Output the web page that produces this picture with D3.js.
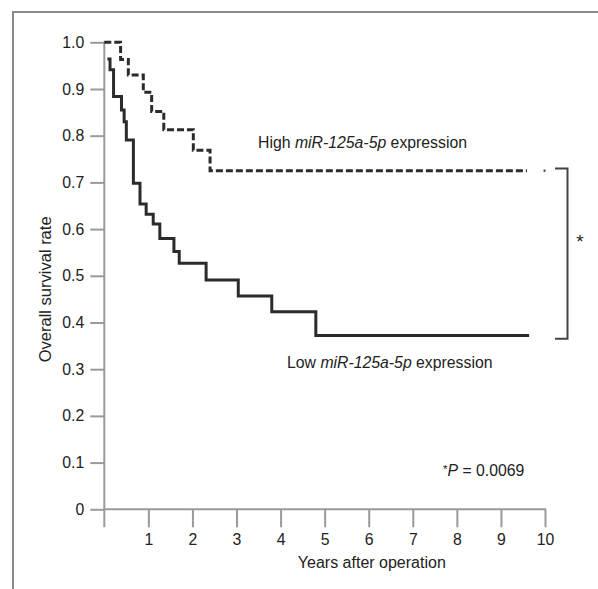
<!DOCTYPE html>
<html>
<head>
<meta charset="utf-8">
<script src="https://cdn.jsdelivr.net/npm/d3@7"></script>
<style>
  html, body { margin: 0; padding: 0; background: #fff; }
  svg { display: block; }
  text { font-family: "Liberation Sans", Arial, sans-serif; fill: #222; }
</style>
</head>
<body>
<svg id="chart" width="598" height="589"></svg>
<script>
// ---- data ----
const xTicks = [1, 2, 3, 4, 5, 6, 7, 8, 9, 10];
const yTicks = [0, 0.1, 0.2, 0.3, 0.4, 0.5, 0.6, 0.7, 0.8, 0.9, 1.0];
const yTickLabels = ["0", "0.1", "0.2", "0.3", "0.4", "0.5", "0.6", "0.7", "0.8", "0.9", "1.0"];

const highTimes = [0, 0.37, 0.545, 0.885, 1.075, 1.35, 2.02, 2.40, 9.59];
const highSurv  = [1.0, 0.963, 0.930, 0.893, 0.852, 0.813, 0.769, 0.725, 0.725];
const highCensorTimes = [9.99];
const highCensorSurv  = [0.725];

const lowTimes = [0.07, 0.13, 0.21, 0.39, 0.45, 0.50, 0.66, 0.81, 0.95, 1.11, 1.26, 1.58, 1.70, 2.31, 3.04, 3.80, 4.80, 9.64];
const lowSurv  = [0.964, 0.941, 0.884, 0.855, 0.83, 0.791, 0.698, 0.654, 0.632, 0.611, 0.580, 0.552, 0.527, 0.491, 0.457, 0.423, 0.372, 0.372];

const bracketValues = [0.730, 0.365];
const pText = "0.0069";

// ---- drawing ----
const svg = d3.select("#chart");
const x = d3.scaleLinear().domain([0, 10]).range([104.3, 545]);
const y = d3.scaleLinear().domain([0, 1]).range([509.3, 42.3]);

const axisColor = "#9a9a9a";
const lineColor = "#2b2b2b";
const fs = 15.8;

// frame
svg.append("path")
  .attr("d", "M13,589 L13,12 L598,12")
  .attr("fill", "none").attr("stroke", "#8a8a8a").attr("stroke-width", 2);

// y axis
const yAxis = d3.axisLeft(y).tickValues(yTicks)
  .tickFormat((d, i) => yTickLabels[i]).tickSize(14).tickPadding(6);
const gy = svg.append("g").attr("transform", `translate(${x(0)},0)`).call(yAxis);
gy.select(".domain").remove();
gy.selectAll(".tick line").attr("stroke", axisColor).attr("stroke-width", 2);
gy.selectAll(".tick text").attr("font-size", fs).attr("fill", "#222")
  .attr("font-family", "Liberation Sans, Arial, sans-serif");
svg.append("line")
  .attr("x1", x(0)).attr("x2", x(0))
  .attr("y1", y(1) - 1).attr("y2", y(0) + 18)
  .attr("stroke", axisColor).attr("stroke-width", 2);

// x axis
const xAxis = d3.axisBottom(x).tickValues(xTicks).tickSize(18).tickPadding(6);
const gx = svg.append("g").attr("transform", `translate(0,${y(0)})`).call(xAxis);
gx.select(".domain").remove();
gx.selectAll(".tick line").attr("stroke", axisColor).attr("stroke-width", 2);
gx.selectAll(".tick text").attr("font-size", fs).attr("fill", "#222")
  .attr("font-family", "Liberation Sans, Arial, sans-serif");
svg.append("line")
  .attr("x1", x(0)).attr("x2", x(10) + 1)
  .attr("y1", y(0)).attr("y2", y(0))
  .attr("stroke", axisColor).attr("stroke-width", 2);

// axis titles
svg.append("text")
  .attr("transform", `translate(51,${y(0.471)}) rotate(-90)`)
  .attr("text-anchor", "middle").attr("font-size", 16.5)
  .text("Overall survival rate");
svg.append("text")
  .attr("x", x(6.07)).attr("y", 568)
  .attr("text-anchor", "middle").attr("font-size", 16)
  .text("Years after operation");

// curves
const step = d3.line().x(d => x(d[0])).y(d => y(d[1])).curve(d3.curveStepAfter);
const highData = highTimes.map((t, i) => [t, highSurv[i]]);
const lowData = lowTimes.map((t, i) => [t, lowSurv[i]]);

svg.append("path").datum(lowData).attr("d", step)
  .attr("fill", "none").attr("stroke", lineColor).attr("stroke-width", 3)
  .attr("stroke-linejoin", "miter");
svg.append("path").datum(highData).attr("d", step)
  .attr("fill", "none").attr("stroke", lineColor).attr("stroke-width", 3)
  .attr("stroke-dasharray", "7,3");
svg.selectAll(".censor").data(highCensorTimes.map((t, i) => [t, highCensorSurv[i]]))
  .enter().append("line")
  .attr("x1", d => x(d[0]) - 1).attr("x2", d => x(d[0]) + 1)
  .attr("y1", d => y(d[1])).attr("y2", d => y(d[1]))
  .attr("stroke", "#555").attr("stroke-width", 2.5);

// curve labels
const hi = svg.append("text").attr("x", 258).attr("y", 148).attr("font-size", fs);
hi.append("tspan").text("High ");
hi.append("tspan").attr("font-style", "italic").text("miR-125a-5p");
hi.append("tspan").text(" expression");

const lo = svg.append("text").attr("x", 287).attr("y", 368).attr("font-size", fs);
lo.append("tspan").text("Low ");
lo.append("tspan").attr("font-style", "italic").text("miR-125a-5p");
lo.append("tspan").text(" expression");

// significance bracket
const bx = 567.5;
svg.append("path")
  .attr("d", `M555,${y(bracketValues[0])} L${bx},${y(bracketValues[0])} L${bx},${y(bracketValues[1])} L555,${y(bracketValues[1])}`)
  .attr("fill", "none").attr("stroke", "#444").attr("stroke-width", 2);
svg.append("text")
  .attr("x", 580).attr("y", 248)
  .attr("text-anchor", "middle").attr("font-size", 19).text("*");

// p value
const pv = svg.append("text").attr("x", 443).attr("y", 476).attr("font-size", fs);
pv.append("tspan").attr("font-size", 11.5).attr("dy", -3).text("*");
pv.append("tspan").attr("font-style", "italic").attr("dy", 3).text("P");
pv.append("tspan").text(" = " + pText);
</script>
</body>
</html>
